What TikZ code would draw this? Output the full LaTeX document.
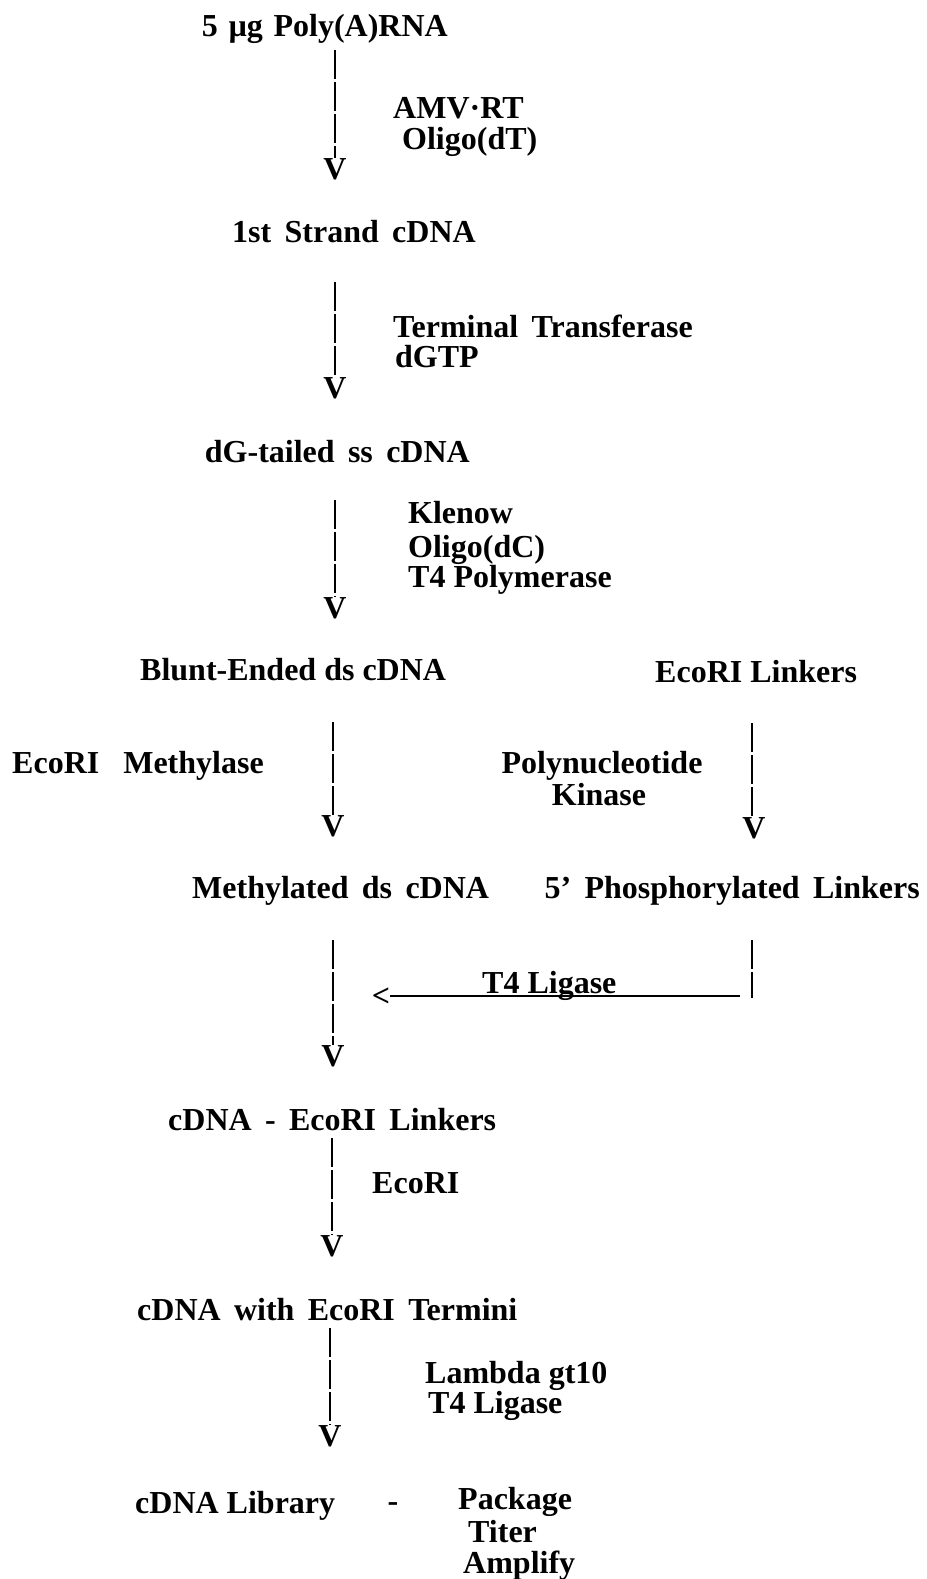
\documentclass[tikz,border=0pt]{standalone}
\usepackage{fontspec}
\setmainfont{Liberation Serif}
\begin{document}
\begin{tikzpicture}[x=1pt,y=-1pt,
  txt/.style={inner sep=0pt,font=\bfseries\fontsize{32}{38}\selectfont},
  lbl/.style={txt,anchor=base west},
  vhead/.style={txt,anchor=north},
  vline/.style={line width=2.4pt,dash pattern=on 29pt off 3pt},
  hline/.style={line width=2.2pt}]
\useasboundingbox[fill=white] (0,0) rectangle (926,1579);

% step 1
\node[txt,anchor=base east] (rna) at (448,37) {5\,\,µg\,\,Poly(A)RNA};
\coordinate (t1) at (335,50);
\node[vhead] (v1) at (335,158) {V};
\draw[vline] (t1) -- (v1.north);
\node[lbl] (amv) at (393,118) {AMV·RT};
\node[lbl] (oligodt) at (402,149) {Oligo(dT)};

% step 2
\node[txt,anchor=base east] (first) at (476,242) {1st\, Strand\, cDNA};
\coordinate (t2) at (335,282);
\node[vhead] (v2) at (335,377) {V};
\draw[vline] (t2) -- (v2.north);
\node[lbl] (tt) at (393,337) {Terminal\, Transferase};
\node[lbl] (dgtp) at (395,367) {dGTP};

% step 3
\node[txt,anchor=base east] (dg) at (470,462) {dG-tailed\, ss\, cDNA};
\coordinate (t3) at (335,500);
\node[vhead] (v3) at (335,597) {V};
\draw[vline] (t3) -- (v3.north);
\node[lbl] (klenow) at (408,523) {Klenow};
\node[lbl] (oligodc) at (408,557) {Oligo(dC)};
\node[lbl] (t4pol) at (408,587) {T4 Polymerase};

% step 4
\node[lbl] (blunt) at (140,680) {Blunt-Ended ds cDNA};
\node[lbl] (linkers) at (655,682) {EcoRI Linkers};
\coordinate (t4l) at (333,722);
\node[vhead] (v4l) at (333,815) {V};
\draw[vline] (t4l) -- (v4l.north);
\node[lbl] (meth) at (12,773) {EcoRI\,\,\, Methylase};
\coordinate (t4r) at (752,723);
\node[vhead] (v4r) at (754,817) {V};
\draw[vline] (t4r) -- (752,817);
\node[txt,anchor=base] (poly) at (602,773) {Polynucleotide};
\node[txt,anchor=base] (kinase) at (599,805) {Kinase};

% step 5
\node[lbl] (methyl) at (192,898) {Methylated\, ds\, cDNA};
\node[txt,anchor=base east] (phos) at (920,898) {5’\, Phosphorylated\, Linkers};
\coordinate (t5) at (333,940);
\node[vhead] (v5) at (333,1045) {V};
\draw[vline] (t5) -- (v5.north);
\coordinate (rb1) at (752,940);
\coordinate (rb2) at (752,998);
\draw[vline] (rb1) -- (rb2);
\node[txt,anchor=center] (lt) at (381,997) {<};
\coordinate (lr) at (740,996);
\draw[hline] (lr) -- (lt.east |- lr);
\node[lbl] (lig) at (482,993) {T4 Ligase};

% step 6
\node[lbl] (cdnalink) at (168,1130) {cDNA\, -\, EcoRI\, Linkers};
\coordinate (t6) at (332,1138);
\node[vhead] (v6) at (332,1235) {V};
\draw[vline] (t6) -- (v6.north);
\node[lbl] (ecori) at (372,1193) {EcoRI};

% step 7
\node[lbl] (termini) at (137,1320) {cDNA\, with\, EcoRI\, Termini};
\coordinate (t7) at (330,1328);
\node[vhead] (v7) at (330,1425) {V};
\draw[vline] (t7) -- (v7.north);
\node[lbl] (lambda) at (425,1383) {Lambda gt10};
\node[lbl] (t4lig) at (428,1413) {T4 Ligase};

% step 8
\node[lbl] (lib) at (135,1513) {cDNA Library};
\node[txt,anchor=base] (dash) at (393,1511) {-};
\node[lbl] (pack) at (458,1509) {Package};
\node[lbl] (titer) at (468,1542) {Titer};
\node[lbl] (ampl) at (463,1573) {Amplify};
\end{tikzpicture}
\end{document}
